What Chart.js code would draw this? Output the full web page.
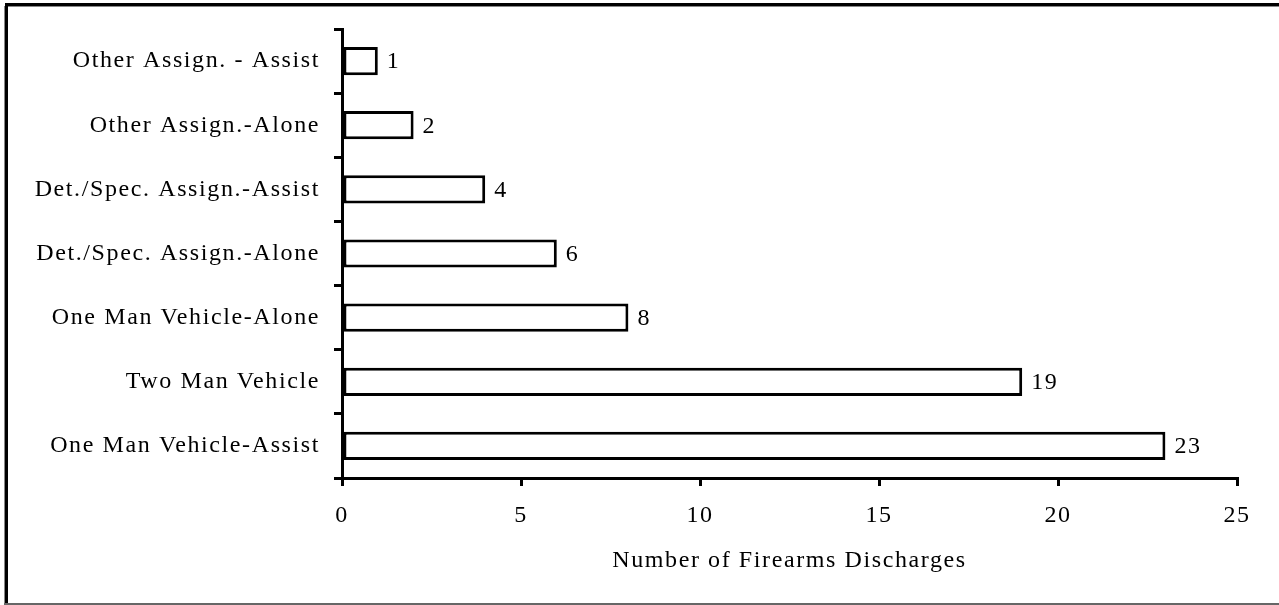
<!DOCTYPE html>
<html>
<head>
<meta charset="utf-8">
<script src="https://cdn.jsdelivr.net/npm/chart.js@4.4.1/dist/chart.umd.min.js"></script>
<style>
  html, body { margin: 0; padding: 0; background: #fff; }
  #wrap { width: 1279px; height: 605px; position: relative; }
</style>
</head>
<body>
<div id="wrap"><canvas id="c" width="1279" height="605"></canvas></div>
<script>
// ---- data ----
const categories = [
  "Other Assign. - Assist",
  "Other Assign.-Alone",
  "Det./Spec. Assign.-Assist",
  "Det./Spec. Assign.-Alone",
  "One Man Vehicle-Alone",
  "Two Man Vehicle",
  "One Man Vehicle-Assist"
];
const discharges = [1, 2, 4, 6, 8, 19, 23];
const xTickValues = [0, 5, 10, 15, 20, 25];
const xAxisTitle = "Number of Firearms Discharges";

const FONT = "'Liberation Serif', 'Times New Roman', serif";
const SPACING = '1.6px';

const spacingPlugin = {
  id: 'spacing',
  beforeUpdate(chart) { chart.ctx.letterSpacing = SPACING; },
  beforeLayout(chart) { chart.ctx.letterSpacing = SPACING; },
  beforeDraw(chart) { chart.ctx.letterSpacing = SPACING; }
};

const valueLabels = {
  id: 'valueLabels',
  afterDatasetsDraw(chart) {
    const ctx = chart.ctx;
    const meta = chart.getDatasetMeta(0);
    ctx.save();
    ctx.letterSpacing = SPACING;
    ctx.font = "24px " + FONT;
    ctx.fillStyle = '#000';
    ctx.textAlign = 'left';
    ctx.textBaseline = 'middle';
    meta.data.forEach((el, i) => {
      ctx.fillText(String(discharges[i]), el.x + 9, el.y + 1);
    });
    ctx.restore();
  }
};

const frame = {
  id: 'frame',
  afterDraw(chart) {
    const ctx = chart.ctx;
    ctx.save();
    ctx.fillStyle = '#888';
    ctx.fillRect(4, 6, 1, 599);
    ctx.fillRect(8, 6, 1271, 1);
    ctx.fillStyle = '#000';
    ctx.fillRect(5, 3, 1274, 3);
    ctx.fillRect(5, 3, 3, 600);
    ctx.fillStyle = '#666';
    ctx.fillRect(4, 603, 1275, 2);
    ctx.restore();
  }
};

new Chart(document.getElementById('c'), {
  type: 'bar',
  data: {
    labels: categories,
    datasets: [{
      data: discharges,
      backgroundColor: '#fff',
      borderColor: '#000',
      borderWidth: 3,
      borderSkipped: false,
      barPercentage: 0.44,
      categoryPercentage: 1.0
    }]
  },
  options: {
    indexAxis: 'y',
    responsive: false,
    animation: false,
    devicePixelRatio: 1,
    layout: { padding: { top: 29, right: 42, bottom: 0, left: 10 } },
    plugins: {
      legend: { display: false },
      tooltip: { enabled: false },
      title: { display: false }
    },
    scales: {
      x: {
        type: 'linear',
        min: 0,
        max: 25,
        afterBuildTicks(scale) { scale.ticks = xTickValues.map(v => ({ value: v })); },
        afterFit(scale) { scale.height = 605 - 478; },
        border: { display: true, color: '#000', width: 3 },
        grid: { display: true, drawOnChartArea: false, drawTicks: true, tickLength: 8, color: '#000', lineWidth: 3 },
        ticks: { color: '#000', font: { family: FONT, size: 24 }, padding: 15, maxRotation: 0 },
        title: {
          display: true,
          text: xAxisTitle,
          color: '#000',
          font: { family: FONT, size: 24 },
          padding: { top: 0, bottom: 30 }
        }
      },
      y: {
        type: 'category',
        afterFit(scale) { scale.width = 342 - 10; },
        border: { display: true, color: '#000', width: 3 },
        grid: { display: true, offset: true, drawOnChartArea: false, drawTicks: true, tickLength: 8, color: '#000', lineWidth: 3 },
        ticks: { color: '#000', font: { family: FONT, size: 24 }, padding: 14, autoSkip: false }
      }
    }
  },
  plugins: [spacingPlugin, valueLabels, frame]
});
</script>
</body>
</html>
